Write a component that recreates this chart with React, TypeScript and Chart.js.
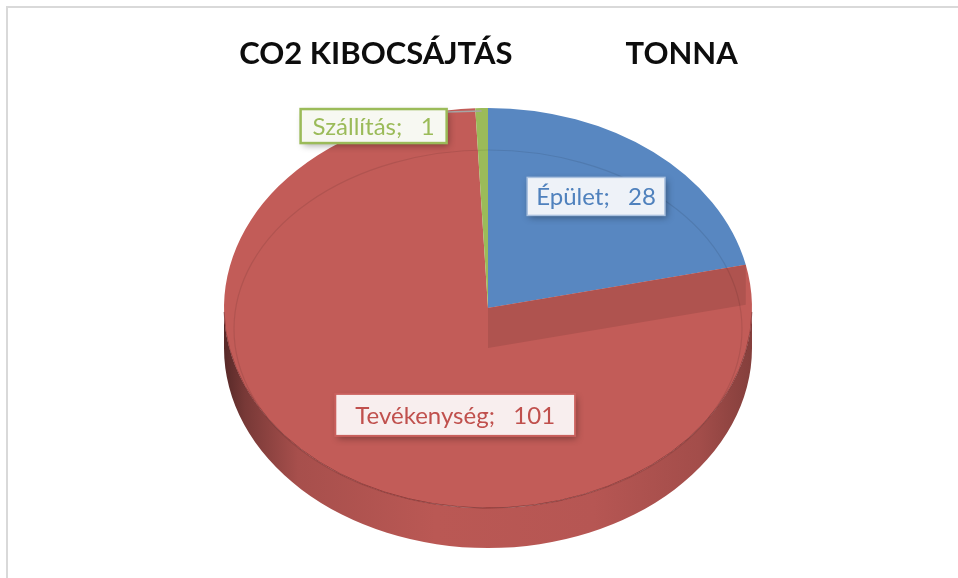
import React, { useEffect, useRef } from 'react';
import { Chart, registerables } from 'chart.js';

Chart.register(...registerables);

// ---- data ----
const categories: string[] = ['Épület', 'Tevékenység', 'Szállítás'];
const values: number[] = [28, 101, 1];
const chartTitle = 'CO2 KIBOCSÁJTÁS               TONNA';

// ---- styles ----
const SLICE_COLORS = ['#5887c1', '#c25c58', '#9bbb59'];
const LABEL_TEXT = ['#4f81bd', '#c0504d', '#9bbb59'];
const LABEL_FILL = ['#eef2f8', '#f8eeee', '#f7f8f2'];
const LABEL_BORDER = ['#aac1df', '#c9605d', '#9bbb59'];
const LABEL_BORDER_W = [1.5, 2, 2.5];
const LABEL_PADX = [9, 20, 12];
const LABEL_PADY = [7, 9, 5];
// label placement relative to slice mid-angle on the top ellipse (fraction of radius) + nudge
const LABEL_PLACE = [
  { r: 0.69, dx: -6, dy: -4, outside: false },
  { r: 0.66, dx: 73, dy: 2, outside: false },
  { r: 1.0, dx: -108, dy: 18, outside: true },
];
const LABEL_FONT = 'Lato, "Open Sans", sans-serif';
const LABEL_SIZE = 24;

// 3D projection of the pie
const CX = 488;
const CY = 308;
const RX = 264;
const RY = 200;
const DEPTH = 40;
const CUT_FACE_INDEX = 1;

function shade(hex: string, f: number): string {
  const n = parseInt(hex.slice(1), 16);
  const r = Math.min(255, Math.round(((n >> 16) & 255) * f));
  const g = Math.min(255, Math.round(((n >> 8) & 255) * f));
  const b = Math.min(255, Math.round((n & 255) * f));
  return `rgb(${r},${g},${b})`;
}

function ellPt(a: number, dy = 0): [number, number] {
  return [CX + RX * Math.cos(a), CY + RY * Math.sin(a) + dy];
}

const pie3dPlugin = {
  id: 'pie3d',
  beforeDraw(chart: any) {
    const ctx = chart.ctx;
    ctx.save();
    ctx.fillStyle = '#ffffff';
    ctx.fillRect(0, 0, chart.width, chart.height);
    ctx.fillStyle = '#d9d9d9';
    ctx.fillRect(6, 6, chart.width - 6, 2);
    ctx.fillRect(6, 6, 2, chart.height - 6);
    ctx.restore();
  },
  beforeDatasetsDraw(chart: any) {
    const ctx = chart.ctx;
    const meta = chart.getDatasetMeta(0);
    // side walls (front half only)
    meta.data.forEach((arc: any, i: number) => {
      const p = arc.getProps(['startAngle', 'endAngle'], true);
      const ranges = [
        [0, Math.PI],
        [2 * Math.PI, 3 * Math.PI],
        [-2 * Math.PI, -Math.PI],
      ];
      ranges.forEach(([lo, hi]) => {
        const a1 = Math.max(p.startAngle, lo);
        const a2 = Math.min(p.endAngle, hi);
        if (a2 <= a1) return;
        const base = SLICE_COLORS[i];
        const g = ctx.createLinearGradient(CX - RX, 0, CX + RX, 0);
        g.addColorStop(0, shade(base, 0.45));
        g.addColorStop(0.04, shade(base, 0.62));
        g.addColorStop(0.14, shade(base, 0.86));
        g.addColorStop(0.4, shade(base, 0.96));
        g.addColorStop(0.7, shade(base, 0.94));
        g.addColorStop(0.9, shade(base, 0.84));
        g.addColorStop(1, shade(base, 0.68));
        ctx.save();
        ctx.beginPath();
        ctx.ellipse(CX, CY, RX, RY, 0, a1, a2, false);
        const e = ellPt(a2, DEPTH);
        ctx.lineTo(e[0], e[1]);
        ctx.ellipse(CX, CY + DEPTH, RX, RY, 0, a2, a1, true);
        ctx.closePath();
        ctx.fillStyle = g;
        ctx.fill();
        ctx.restore();
      });
    });
    // project the library's circular arcs onto the ellipse
    const a0 = meta.data[0].getProps(['x', 'y', 'outerRadius'], true);
    ctx.save();
    ctx.translate(CX, CY);
    ctx.scale(RX / a0.outerRadius, RY / a0.outerRadius);
    ctx.translate(-a0.x, -a0.y);
  },
  afterDatasetsDraw(chart: any) {
    const ctx = chart.ctx;
    ctx.restore();
    const meta = chart.getDatasetMeta(0);

    // visible cut face
    const cut = meta.data[CUT_FACE_INDEX].getProps(['startAngle'], true);
    const P = ellPt(cut.startAngle);
    ctx.save();
    ctx.beginPath();
    ctx.moveTo(CX, CY);
    ctx.lineTo(P[0], P[1]);
    ctx.lineTo(P[0], P[1] + DEPTH);
    ctx.lineTo(CX, CY + DEPTH);
    ctx.closePath();
    ctx.fillStyle = shade(SLICE_COLORS[CUT_FACE_INDEX], 0.9);
    ctx.fill();
    ctx.restore();

    // bevel line and rim
    ctx.save();
    ctx.beginPath();
    ctx.ellipse(CX, CY + 21, RX - 10, RY - 21, 0, 0, Math.PI * 2);
    ctx.strokeStyle = 'rgba(0,0,0,0.09)';
    ctx.lineWidth = 1.2;
    ctx.stroke();
    ctx.beginPath();
    ctx.ellipse(CX, CY, RX, RY, 0, 0.02, Math.PI - 0.02, false);
    ctx.strokeStyle = 'rgba(110,35,35,0.55)';
    ctx.lineWidth = 1;
    ctx.stroke();
    ctx.restore();

    // data labels
    const data = chart.data.datasets[0].data as number[];
    meta.data.forEach((arc: any, i: number) => {
      const p = arc.getProps(['startAngle', 'endAngle'], true);
      const mid = (p.startAngle + p.endAngle) / 2;
      const pl = LABEL_PLACE[i];
      const ax = CX + RX * pl.r * Math.cos(mid);
      const ay = CY + RY * pl.r * Math.sin(mid);
      const cx = ax + pl.dx;
      const cy = ay + pl.dy;
      const text = `${chart.data.labels[i]};   ${data[i]}`;
      ctx.save();
      ctx.font = `${LABEL_SIZE}px ${LABEL_FONT}`;
      const tw = ctx.measureText(text).width;
      const w = tw + 2 * LABEL_PADX[i];
      const h = LABEL_SIZE + 2 * LABEL_PADY[i];
      const bx = cx - w / 2;
      const by = cy - h / 2;
      if (pl.outside) {
        ctx.beginPath();
        ctx.moveTo(bx + w, by + 3);
        ctx.lineTo(ax, ay + 3);
        ctx.strokeStyle = '#a6a6a6';
        ctx.lineWidth = 1.5;
        ctx.stroke();
      }
      ctx.shadowColor = 'rgba(0,0,0,0.35)';
      ctx.shadowBlur = 7;
      ctx.shadowOffsetX = 2;
      ctx.shadowOffsetY = 3;
      ctx.fillStyle = LABEL_FILL[i];
      ctx.fillRect(bx, by, w, h);
      ctx.shadowColor = 'transparent';
      ctx.lineWidth = LABEL_BORDER_W[i];
      ctx.strokeStyle = LABEL_BORDER[i];
      ctx.strokeRect(bx, by, w, h);
      ctx.fillStyle = LABEL_TEXT[i];
      ctx.textAlign = 'center';
      ctx.textBaseline = 'middle';
      ctx.fillText(text, cx, cy + 1);
      ctx.restore();
    });
  },
};

export default function App() {
  const ref = useRef<HTMLCanvasElement | null>(null);
  useEffect(() => {
    if (!ref.current) return;
    const chart = new Chart(ref.current, {
      type: 'pie',
      data: {
        labels: categories,
        datasets: [
          {
            data: values,
            backgroundColor: SLICE_COLORS,
            borderWidth: 0,
            clip: false as any,
          },
        ],
      },
      options: {
        responsive: false,
        animation: false,
        events: [],
        layout: { padding: { left: 19, right: 0, top: 0, bottom: 20 } },
        plugins: {
          legend: { display: false },
          tooltip: { enabled: false },
          title: {
            display: true,
            text: chartTitle,
            color: '#0d0d0d',
            font: { family: 'Lato, "Open Sans", sans-serif', size: 31, weight: 'bold' },
            padding: { top: 35, bottom: 10 },
          },
        },
      },
      plugins: [pie3dPlugin],
    });
    return () => chart.destroy();
  }, []);
  return (
    <canvas
      ref={ref}
      width={958}
      height={578}
      style={{ position: 'fixed', left: 0, top: 0, width: 958, height: 578 }}
    />
  );
}
